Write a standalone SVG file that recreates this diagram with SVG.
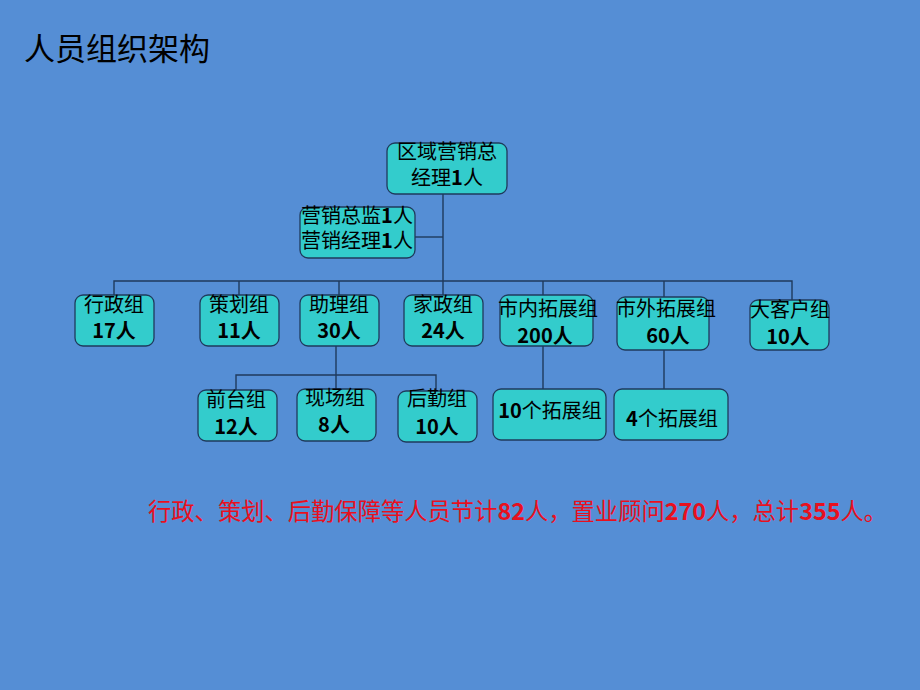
<svg xmlns="http://www.w3.org/2000/svg" width="920" height="690" viewBox="0 0 920 690">
<style>
.bg{fill:#558ED5}
.box{fill:#33CCCC;stroke:#1F3A5C;stroke-width:1.3}
.t{font-family:"Noto Sans CJK SC","Noto Sans",sans-serif;font-size:20px;fill:#000;text-anchor:middle}
.b{font-weight:bold}
.ln{stroke:#1F3A5C;stroke-width:1.4;fill:none}
.title{font-family:"Noto Sans CJK SC","Noto Sans",sans-serif;font-size:31px;fill:#000}
.note{font-family:"Noto Sans CJK SC","Noto Sans",sans-serif;font-size:23.3px;fill:#E8101E}
</style>
<rect class="bg" x="0" y="0" width="920" height="690"/>
<text class="title" x="24" y="60">人员组织架构</text>
<g id="connectors">
<path class="ln" d="M443,194 V295"/>
<path class="ln" d="M415,237 H443"/>
<path class="ln" d="M114,295 V281 H792 V300"/>
<path class="ln" d="M239,281 V295"/>
<path class="ln" d="M339,281 V295"/>
<path class="ln" d="M543,281 V295"/>
<path class="ln" d="M664,281 V297"/>
<path class="ln" d="M336,346 V389"/>
<path class="ln" d="M236,390 V375 H436 V391"/>
<path class="ln" d="M543,346 V389"/>
<path class="ln" d="M664,350 V389"/>
</g>
<g id="n-top"><rect class="box" x="387" y="143" width="120" height="51" rx="8"/>
<text class="t" x="447" y="159">区域营销总</text><text class="t" x="447" y="185">经理<tspan class="b">1</tspan>人</text></g>
<g id="n-director"><rect class="box" x="300" y="207" width="115" height="51" rx="8"/>
<text class="t" x="357" y="223">营销总监<tspan class="b">1</tspan>人</text><text class="t" x="357" y="248">营销经理<tspan class="b">1</tspan>人</text></g>
<g id="n-admin"><rect class="box" x="75" y="295" width="79" height="51" rx="8"/>
<text class="t" x="114" y="312">行政组</text><text class="t b" x="114" y="338">17人</text></g>
<g id="n-plan"><rect class="box" x="200" y="295" width="79" height="51" rx="8"/>
<text class="t" x="239" y="312">策划组</text><text class="t b" x="239" y="338">11人</text></g>
<g id="n-assist"><rect class="box" x="300" y="295" width="79" height="51" rx="8"/>
<text class="t" x="339" y="312">助理组</text><text class="t b" x="339" y="338">30人</text></g>
<g id="n-house"><rect class="box" x="404" y="295" width="79" height="51" rx="8"/>
<text class="t" x="443" y="312">家政组</text><text class="t b" x="443" y="338">24人</text></g>
<g id="n-city"><rect class="box" x="500" y="295" width="93" height="51" rx="8"/>
<text class="t" x="548" y="316">市内拓展组</text><text class="t b" x="545" y="343">200人</text></g>
<g id="n-out"><rect class="box" x="617" y="297" width="92" height="53" rx="8"/>
<text class="t" x="666" y="316">市外拓展组</text><text class="t b" x="668" y="343">60人</text></g>
<g id="n-vip"><rect class="box" x="750" y="300" width="79" height="50" rx="8"/>
<text class="t" x="790" y="317">大客户组</text><text class="t b" x="788" y="344">10人</text></g>
<g id="n-front"><rect class="box" x="198" y="390" width="79" height="51" rx="8"/>
<text class="t" x="236" y="407">前台组</text><text class="t b" x="236" y="434">12人</text></g>
<g id="n-site"><rect class="box" x="297" y="389" width="79" height="52" rx="8"/>
<text class="t" x="335" y="405">现场组</text><text class="t b" x="334" y="432">8人</text></g>
<g id="n-back"><rect class="box" x="398" y="391" width="79" height="51" rx="8"/>
<text class="t" x="437" y="406">后勤组</text><text class="t b" x="437" y="434">10人</text></g>
<g id="n-ten"><rect class="box" x="493" y="389" width="113" height="51" rx="8"/>
<text class="t" x="550" y="418"><tspan class="b">10</tspan>个拓展组</text></g>
<g id="n-four"><rect class="box" x="614" y="389" width="114" height="51" rx="8"/>
<text class="t" x="672" y="426"><tspan class="b">4</tspan>个拓展组</text></g>
<text class="note" x="148" y="520">行政、策划、后勤保障等人员节计<tspan font-weight="bold">82</tspan>人，置业顾问<tspan font-weight="bold">270</tspan>人，总计<tspan font-weight="bold">355</tspan>人。</text>
</svg>
